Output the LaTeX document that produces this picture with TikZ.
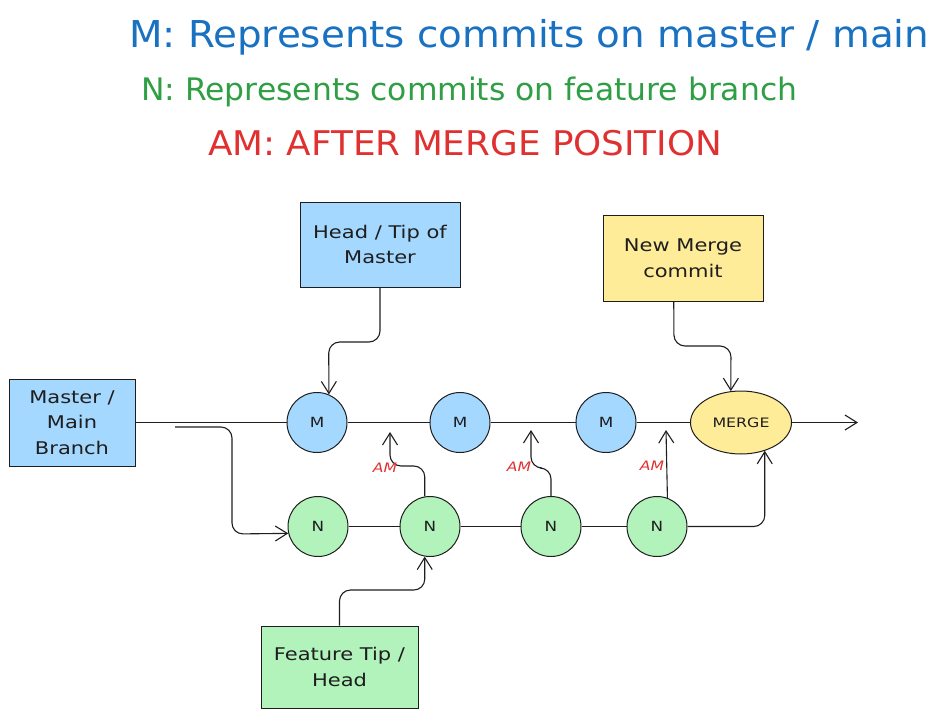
\documentclass[tikz,border=0pt]{standalone}
\usepackage{fontspec}
\setmainfont{DejaVu Sans}
\newfontfamily\handfont[FakeStretch=1.2]{DejaVu Sans}
\usetikzlibrary{arrows.meta,shapes.geometric}
\definecolor{strk}{HTML}{1E1E1E}
\definecolor{tblue}{HTML}{1971C2}
\definecolor{tgreen}{HTML}{2F9E44}
\definecolor{tred}{HTML}{E03131}
\definecolor{fblue}{HTML}{A5D8FF}
\definecolor{fgreen}{HTML}{B2F2BB}
\definecolor{fyellow}{HTML}{FFEC99}
\newcommand\fitw[2]{\resizebox{#1}{\height}{#2}}
\begin{document}
\begin{tikzpicture}[x=1pt,y=-1pt,
  box/.style={draw=strk, line width=1pt, align=center, inner sep=0pt,
    font=\handfont\fontsize{17.5}{25.5}\selectfont, text=strk},
  commit/.style={circle, draw=strk, line width=1pt, minimum size=60pt, inner sep=0pt,
    font=\handfont\fontsize{14}{16}\selectfont, text=strk},
  conn/.style={draw=strk, line width=1.1pt, rounded corners=11pt},
  arr/.style={conn, -{Straight Barb[length=12pt,width=15pt,line width=1.1pt]}},
  amlbl/.style={text=tred, font=\handfont\fontsize{13}{14}\selectfont\itshape, inner sep=0pt},
  title/.style={anchor=base west, inner sep=0pt}
]
\useasboundingbox (0,0) rectangle (940,718);

% titles
\node[title, text=tblue, font=\fontsize{37}{40}\selectfont] (t1) at (129,47)
  {\fitw{800pt}{M: Represents commits on master / main}};
\node[title, text=tgreen, font=\fontsize{31}{34}\selectfont] (t2) at (141,100)
  {\fitw{656pt}{N: Represents commits on feature branch}};
\node[title, text=tred, font=\fontsize{34}{38}\selectfont] (t3) at (208,155)
  {\fitw{514pt}{AM: AFTER MERGE POSITION}};

% boxes
\node[box, fill=fblue, minimum width=160pt, minimum height=85pt] (head) at (380,244.5) {Head / Tip of\\Master};
\node[box, fill=fyellow, minimum width=160pt, minimum height=86pt] (newm) at (683,258) {New Merge\\commit};
\node[box, fill=fblue, minimum width=126pt, minimum height=87pt] (master) at (72,422.5) {Master /\\Main\\Branch};
\node[box, fill=fgreen, minimum width=157pt, minimum height=82pt] (feat) at (339.5,667) {Feature Tip /\\Head};

% commits
\node[commit, fill=fblue] (m1) at (317,422.5) {M};
\node[commit, fill=fblue] (m2) at (460,422.5) {M};
\node[commit, fill=fblue] (m3) at (606,422.5) {M};
\node[ellipse, draw=strk, line width=1pt, fill=fyellow, minimum width=101pt, minimum height=63pt,
  inner sep=0pt, font=\fontsize{13}{15}\selectfont, text=strk] (merge) at (741,422.5) {\fitw{57pt}{MERGE}};
\node[commit, fill=fgreen] (n1) at (318,526.5) {N};
\node[commit, fill=fgreen] (n2) at (430,526.5) {N};
\node[commit, fill=fgreen] (n3) at (551,526.5) {N};
\node[commit, fill=fgreen] (n4) at (657,526.5) {N};

% main line
\draw[conn] (master.east) -- (m1.west);
\draw[conn] (m1) -- (m2);
\draw[conn] (m2) -- (m3);
\draw[conn] (m3) -- (merge);
\coordinate (out) at (858,422.5);
\draw[arr] (merge) -- (out);

% feature branch start
\coordinate (fs) at (175,427);
\draw[arr] (fs) -- (232,427) -- (232,534) -- (n1.193);

% feature line
\draw[conn] (n1) -- (n2);
\draw[conn] (n2) -- (n3);
\draw[conn] (n3) -- (n4);
\draw[arr] (n4.east) -| (merge.-50);

% AM arrows
\coordinate (am1) at (390,432);
\coordinate (am2) at (531,430);
\coordinate (am3) at (666,430);
\draw[arr] (n2.100) -- (424.8,466) -- (390,466) -- (am1);
\draw[arr] (n3.north) -- (551,468) -- (531,468) -- (am2);
\draw[arr] (n4.70) -- (am3);
\node[amlbl] (l1) at (385,468) {AM};
\node[amlbl] (l2) at (519,467) {AM};
\node[amlbl] (l3) at (652,466) {AM};

% pointer arrows
\draw[arr] (head.south) -- (380,342) -- (328.7,342) -- (m1.67);
\draw[arr] (newm.258) -- (674,346) -- (731,346) -- (merge.108);
\draw[arr] (feat.north) -- (339.5,590) -- (424.8,590) -- (n2.-100);
\end{tikzpicture}
\end{document}
